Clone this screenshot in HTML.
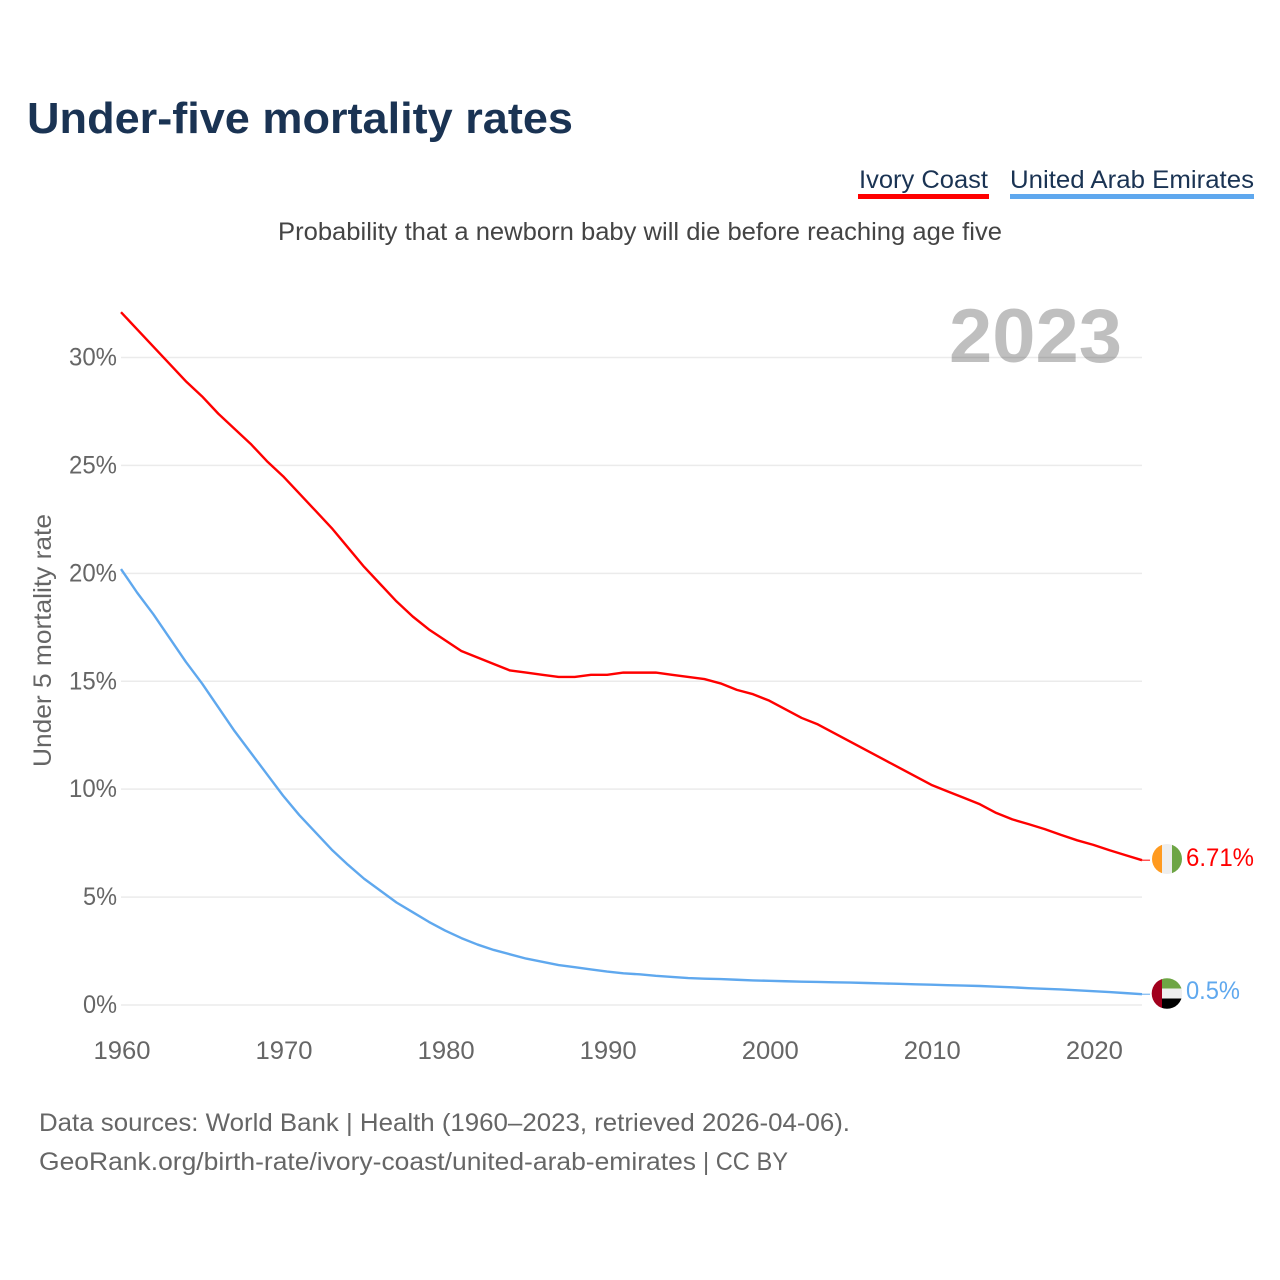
<!DOCTYPE html>
<html lang="en">
<head>
<meta charset="utf-8">
<title>Under-five mortality rates</title>
<style>
  html, body { margin: 0; padding: 0; background: #ffffff; }
  svg { display: block; }
  text { font-family: "Liberation Sans", sans-serif; }
</style>
</head>
<body>
<svg id="chart" width="1280" height="1280" viewBox="0 0 1280 1280" xmlns="http://www.w3.org/2000/svg">
  <rect x="0" y="0" width="1280" height="1280" fill="#ffffff"/>
  <text x="27" y="133" font-size="44" font-weight="700" fill="#1a3353" textLength="546" lengthAdjust="spacingAndGlyphs">Under-five mortality rates</text>

  <g>
    <text x="859" y="188" font-size="25" fill="#1a3353" textLength="129" lengthAdjust="spacingAndGlyphs">Ivory Coast</text>
    <rect x="858" y="194" width="131" height="5" fill="#ff0000"/>
  </g>
  <g>
    <text x="1010" y="188" font-size="25" fill="#1a3353" textLength="244" lengthAdjust="spacingAndGlyphs">United Arab Emirates</text>
    <rect x="1010" y="194" width="244" height="5" fill="#5fa8ee"/>
  </g>

  <text x="278" y="240" font-size="25" fill="#444444" textLength="724" lengthAdjust="spacingAndGlyphs">Probability that a newborn baby will die before reaching age five</text>

  <g id="grid"></g>
  <g id="yticks"></g>
  <g id="xticks"></g>

  <text transform="translate(51,767) rotate(-90)" x="0" y="0" font-size="25" fill="#666666" textLength="253" lengthAdjust="spacingAndGlyphs">Under 5 mortality rate</text>

  <text x="949" y="362" font-size="76" font-weight="700" fill="#000000" fill-opacity="0.25" textLength="173" lengthAdjust="spacingAndGlyphs">2023</text>

  <g id="series"></g>

  <defs>
    <clipPath id="flag-clip-ci"><circle cx="1167" cy="859" r="15"/></clipPath>
    <clipPath id="flag-clip-ae"><circle cx="1167" cy="993.5" r="15.3"/></clipPath>
  </defs>
  <g clip-path="url(#flag-clip-ci)">
    <rect x="1152" y="844" width="10" height="30" fill="#ff9a1f"/>
    <rect x="1162" y="844" width="10" height="30" fill="#eeeeee"/>
    <rect x="1172" y="844" width="10" height="30" fill="#6da544"/>
  </g>
  <g clip-path="url(#flag-clip-ae)">
    <rect x="1162" y="978" width="20" height="10.5" fill="#6da544"/>
    <rect x="1162" y="988.5" width="20" height="10" fill="#eeeeee"/>
    <rect x="1162" y="998.5" width="20" height="11" fill="#000000"/>
    <rect x="1151" y="978" width="11" height="31" fill="#a2001d"/>
  </g>

  <g>
    <text x="39" y="1131" font-size="25" fill="#666666" textLength="811" lengthAdjust="spacingAndGlyphs">Data sources: World Bank | Health (1960–2023, retrieved 2026-04-06).</text>
    <text x="39" y="1170" font-size="25" fill="#666666" textLength="657" lengthAdjust="spacingAndGlyphs">GeoRank.org/birth-rate/ivory-coast/united-arab-emirates</text>
    <text x="703" y="1170" font-size="25" fill="#666666" textLength="85" lengthAdjust="spacingAndGlyphs">| CC BY</text>
  </g>
</svg>
<script>
const years = [1960,1961,1962,1963,1964,1965,1966,1967,1968,1969,1970,1971,1972,1973,1974,1975,1976,1977,1978,1979,1980,1981,1982,1983,1984,1985,1986,1987,1988,1989,1990,1991,1992,1993,1994,1995,1996,1997,1998,1999,2000,2001,2002,2003,2004,2005,2006,2007,2008,2009,2010,2011,2012,2013,2014,2015,2016,2017,2018,2019,2020,2021,2022,2023];
const ivoryCoast = [32.1,31.3,30.5,29.7,28.9,28.2,27.4,26.7,26.0,25.2,24.5,23.7,22.9,22.1,21.2,20.3,19.5,18.7,18.0,17.4,16.9,16.4,16.1,15.8,15.5,15.4,15.3,15.2,15.2,15.3,15.3,15.4,15.4,15.4,15.3,15.2,15.1,14.9,14.6,14.4,14.1,13.7,13.3,13.0,12.6,12.2,11.8,11.4,11.0,10.6,10.2,9.9,9.6,9.3,8.9,8.6,8.38,8.15,7.88,7.63,7.42,7.17,6.94,6.71];
const unitedArabEmirates = [20.2,19.1,18.1,17.0,15.9,14.9,13.8,12.7,11.7,10.7,9.7,8.8,8.0,7.2,6.5,5.85,5.3,4.75,4.3,3.85,3.45,3.1,2.8,2.55,2.35,2.15,2.0,1.85,1.75,1.65,1.55,1.47,1.42,1.35,1.3,1.25,1.22,1.2,1.17,1.14,1.12,1.1,1.08,1.07,1.05,1.04,1.02,1.0,0.98,0.96,0.94,0.92,0.9,0.88,0.85,0.82,0.78,0.75,0.72,0.68,0.64,0.6,0.55,0.5];
const yTickValues = [0,5,10,15,20,25,30];
const xTickValues = [1960,1970,1980,1990,2000,2010,2020];
const ivoryCoastLabel = "6.71%";
const unitedArabEmiratesLabel = "0.5%";

const NS = "http://www.w3.org/2000/svg";
const plotLeft = 121, plotRight = 1142, yZero = 1005, yThirty = 357.5;

function xScale(year) {
  return plotLeft + (year - 1960) * (plotRight - plotLeft) / (2023 - 1960);
}
function yScale(value) {
  return yZero + value * (yThirty - yZero) / 30;
}
function make(tag, attrs) {
  const el = document.createElementNS(NS, tag);
  for (const k in attrs) el.setAttribute(k, attrs[k]);
  return el;
}

const gridGroup = document.getElementById("grid");
const yGroup = document.getElementById("yticks");
const xGroup = document.getElementById("xticks");
const seriesGroup = document.getElementById("series");

yTickValues.forEach(function (v) {
  const line = make("line", { x1: plotLeft, x2: plotRight, y1: yScale(v), y2: yScale(v), stroke: "#ebebeb", "stroke-width": 1.5 });
  
  
  gridGroup.appendChild(line);

  const label = v + "%";
  const w = label.length === 3 ? 48 : 34;
  const t = make("text", { x: 117 - w, y: yScale(v) + 8, "font-size": 25, fill: "#666666", textLength: w, lengthAdjust: "spacingAndGlyphs" });
  
  
  t.textContent = label;
  yGroup.appendChild(t);
});

xTickValues.forEach(function (yr) {
  const t = make("text", { x: xScale(yr) - 27.5, y: 1059, "font-size": 25, fill: "#666666", textLength: 57, lengthAdjust: "spacingAndGlyphs" });
  
  
  t.textContent = yr;
  xGroup.appendChild(t);
});

function pathFor(values) {
  return values.map(function (v, i) {
    return (i ? "L" : "M") + xScale(years[i]).toFixed(2) + " " + yScale(v).toFixed(2);
  }).join(" ");
}

const ivoryPath = make("path", { d: pathFor(ivoryCoast), fill: "none", stroke: "#ff0000", "stroke-width": 2.4, "stroke-linejoin": "round" });


seriesGroup.appendChild(ivoryPath);

const uaePath = make("path", { d: pathFor(unitedArabEmirates), fill: "none", stroke: "#5fa8ee", "stroke-width": 2.4, "stroke-linejoin": "round" });


seriesGroup.appendChild(uaePath);

const ivoryLast = ivoryCoast[ivoryCoast.length - 1];
const uaeLast = unitedArabEmirates[unitedArabEmirates.length - 1];

const ivoryLeader = make("line", { x1: plotRight, x2: 1150, y1: yScale(ivoryLast), y2: yScale(ivoryLast), stroke: "#ff0000", "stroke-width": 1 });


seriesGroup.appendChild(ivoryLeader);

const uaeLeader = make("line", { x1: plotRight, x2: 1150, y1: yScale(uaeLast), y2: yScale(uaeLast), stroke: "#5fa8ee", "stroke-width": 1 });


seriesGroup.appendChild(uaeLeader);

const ivoryEnd = make("text", { x: 1186, y: 866, "font-size": 25, fill: "#ff0000", textLength: 68, lengthAdjust: "spacingAndGlyphs" });


ivoryEnd.textContent = ivoryCoastLabel;
seriesGroup.appendChild(ivoryEnd);

const uaeEnd = make("text", { x: 1186, y: 999, "font-size": 25, fill: "#5fa8ee", textLength: 54, lengthAdjust: "spacingAndGlyphs" });


uaeEnd.textContent = unitedArabEmiratesLabel;
seriesGroup.appendChild(uaeEnd);
</script>
</body>
</html>
